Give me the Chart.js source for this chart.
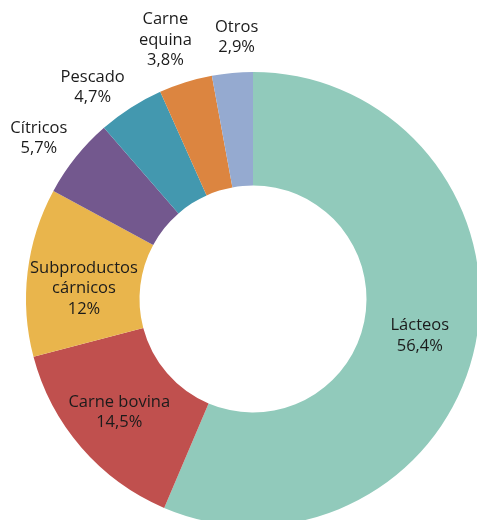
<!DOCTYPE html>
<html>
<head>
<meta charset="utf-8">
<script src="https://cdn.jsdelivr.net/npm/chart.js@4/dist/chart.umd.min.js"></script>
<style>
  html, body { margin: 0; padding: 0; background: #fff; overflow: hidden; }
  #wrap { position: absolute; left: 0; top: 0; width: 506px; height: 598px; }
</style>
</head>
<body>
<div id="wrap"><canvas id="chart"></canvas></div>
<script>
const categories = ['Lácteos', 'Carne bovina', 'Subproductos cárnicos', 'Cítricos', 'Pescado', 'Carne equina', 'Otros'];
const labelLines = [['Lácteos'], ['Carne bovina'], ['Subproductos', 'cárnicos'], ['Cítricos'], ['Pescado'], ['Carne', 'equina'], ['Otros']];
const shares = [56.4, 14.5, 12, 5.7, 4.7, 3.8, 2.9];
const colors = ['#91CABB', '#C0504E', '#E9B54C', '#73588E', '#4398AF', '#DC8540', '#95AAD0'];
const outside = [false, false, false, true, true, true, true];

const fmt = v => v.toLocaleString('es-ES') + '%';

// small hand nudges so labels sit like in the original layout
const nudges = [[0, 3], [-5, 2], [0, 10], [-5, 7], [-16, 14], [-8, -3], [8, 5]];

// draws the category name + share on or around each slice
const sliceLabels = {
    id: 'sliceLabels',
    afterDatasetsDraw(chart) {
        const ctx = chart.ctx;
        const meta = chart.getDatasetMeta(0);
        ctx.save();
        ctx.font = '16.5px "Open Sans", sans-serif';
        ctx.fillStyle = '#1b1b1b';
        ctx.textAlign = 'center';
        ctx.textBaseline = 'middle';
        meta.data.forEach((arc, i) => {
            const lines = labelLines[i].concat([fmt(shares[i])]);
            let x, y;
            if (outside[i]) {
                const p = arc.getProps(['x', 'y', 'startAngle', 'endAngle', 'outerRadius'], true);
                const mid = (p.startAngle + p.endAngle) / 2;
                const r = p.outerRadius + 41;
                x = p.x + Math.cos(mid) * r;
                y = p.y + Math.sin(mid) * r;
            } else {
                const c = arc.getCenterPoint(true);
                x = c.x;
                y = c.y;
            }
            x += nudges[i][0];
            y += nudges[i][1];
            const lh = 20.5;
            const top = y - (lines.length - 1) * lh / 2;
            lines.forEach((t, k) => ctx.fillText(t, x, top + k * lh));
        });
        ctx.restore();
    }
};

new Chart(document.getElementById('chart'), {
    type: 'doughnut',
    data: {
        labels: categories,
        datasets: [{
            data: shares,
            backgroundColor: colors,
            borderWidth: 0
        }]
    },
    options: {
        responsive: true,
        maintainAspectRatio: false,
        animation: false,
        cutout: '50%',
        layout: { padding: { left: 26, right: 26, top: 72, bottom: 72 } },
        plugins: {
            legend: { display: false },
            tooltip: { enabled: false }
        }
    },
    plugins: [sliceLabels]
});
</script>
</body>
</html>
